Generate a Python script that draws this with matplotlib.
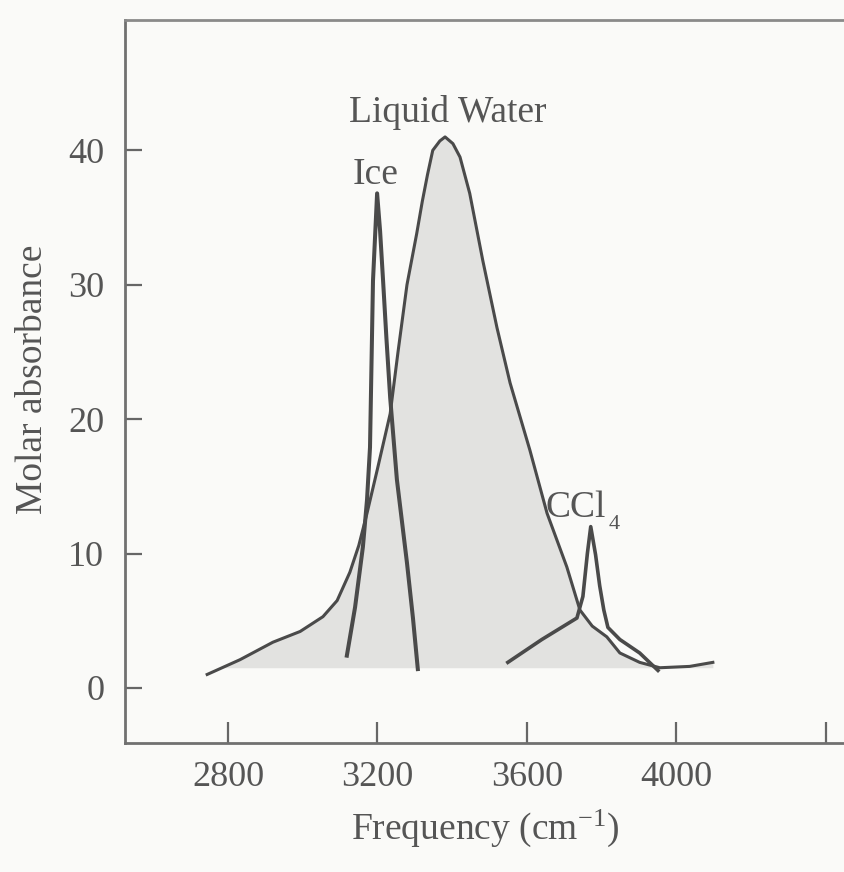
import matplotlib.pyplot as plt

plt.rcParams["font.family"] = ["Liberation Serif", "DejaVu Serif"]
plt.rcParams["mathtext.fontset"] = "custom"
plt.rcParams["mathtext.rm"] = "Liberation Serif"
plt.rcParams["mathtext.it"] = "Liberation Serif:italic"

# ---------------------------------------------
# Data (frequency in cm^-1, molar absorbance)
# ---------------------------------------------
water_freq = [2744, 2832, 2920, 2993, 3054, 3092, 3126, 3150, 3172, 3200,
              3234, 3255, 3279, 3305, 3320, 3334, 3348, 3367, 3381, 3402,
              3421, 3447, 3482, 3520, 3555, 3608, 3654, 3707, 3742, 3775,
              3814, 3849, 3902, 3956, 4036, 4098]
water_abs = [1.0, 2.1, 3.4, 4.2, 5.3, 6.5, 8.6, 10.6, 13.0, 16.3,
             20.4, 25.0, 30.0, 33.8, 36.2, 38.2, 40.0, 40.7, 41.0, 40.5,
             39.5, 36.8, 31.8, 26.8, 22.7, 17.7, 13.0, 9.0, 5.8, 4.6,
             3.8, 2.6, 1.9, 1.5, 1.6, 1.9]

ice_freq = [3118, 3140, 3161, 3172, 3180, 3188, 3199, 3207, 3215, 3224,
            3234, 3252, 3279, 3295, 3308]
ice_abs = [2.4, 6.0, 10.5, 14.0, 17.9, 30.3, 36.8, 34.0, 30.3, 26.0,
           21.6, 15.5, 9.3, 5.2, 1.4]

ccl4_freq = [3549, 3640, 3734, 3750, 3762, 3771, 3784, 3795, 3806, 3817,
             3849, 3902, 3951]
ccl4_abs = [1.9, 3.6, 5.2, 6.8, 10.0, 12.0, 9.9, 7.6, 5.8, 4.5,
            3.6, 2.6, 1.3]

fill_base = 1.5

x_ticks = [2800, 3200, 3600, 4000, 4400]
x_labels = ["2800", "3200", "3600", "4000", ""]
y_ticks = [0, 10, 20, 30, 40]

# ---------------------------------------------
# Figure
# ---------------------------------------------
bg = "#fafaf8"
ink = "#4a4a4a"
txt = "#555555"

fig = plt.figure(figsize=(8.44, 8.72), dpi=100, facecolor=bg)
ax = fig.add_axes([125 / 844, 129 / 872, 738 / 844, 723 / 872])
ax.set_facecolor(bg)

ax.fill_between(water_freq, water_abs, fill_base,
                where=[v >= fill_base for v in water_abs],
                color="#e2e2e0", lw=0, interpolate=True)
ax.plot(water_freq, water_abs, color=ink, lw=2.2, solid_joinstyle="round")
ax.plot(ice_freq, ice_abs, color=ink, lw=2.9, solid_joinstyle="round")
ax.plot(ccl4_freq, ccl4_abs, color=ink, lw=2.6, solid_joinstyle="round")

ax.text(3387, 42.1, "Liquid Water", ha="center", va="baseline",
        fontsize=27, color=txt)
ax.text(3196, 37.5, "Ice", ha="center", va="baseline", fontsize=27, color=txt)
ax.text(3730, 12.7, "CCl", ha="center", va="baseline", fontsize=27, color=txt)
ax.text(3834, 11.8, "4", ha="center", va="baseline", fontsize=16, color=txt)

ax.set_xlim(2524, 4500)
ax.set_ylim(-4.1, 49.7)
ax.set_xticks(x_ticks)
ax.set_xticklabels(x_labels)
ax.set_yticks(y_ticks)

ax.tick_params(axis="x", direction="in", length=15, width=1.6,
               color="#666666", labelsize=26, labelcolor=txt, pad=13)
ax.tick_params(axis="y", direction="in", length=12, width=1.6,
               color="#666666", labelsize=26, labelcolor=txt, pad=15)

for side in ["left", "bottom", "top"]:
    ax.spines[side].set_color("#707070")
    ax.spines[side].set_linewidth(2.0)
ax.spines["top"].set_color("#8a8a8a")
ax.spines["right"].set_visible(False)

fig.text(485 / 844, 1 - 828 / 872, "Frequency (cm$^{-1}$)", ha="center",
         va="center", fontsize=27, color=txt)
fig.text(33 / 844, 1 - 379 / 872, "Molar absorbance", ha="center",
         va="center", rotation=90, fontsize=27, color=txt)

fig.savefig("out.png", dpi=100, facecolor=bg)
